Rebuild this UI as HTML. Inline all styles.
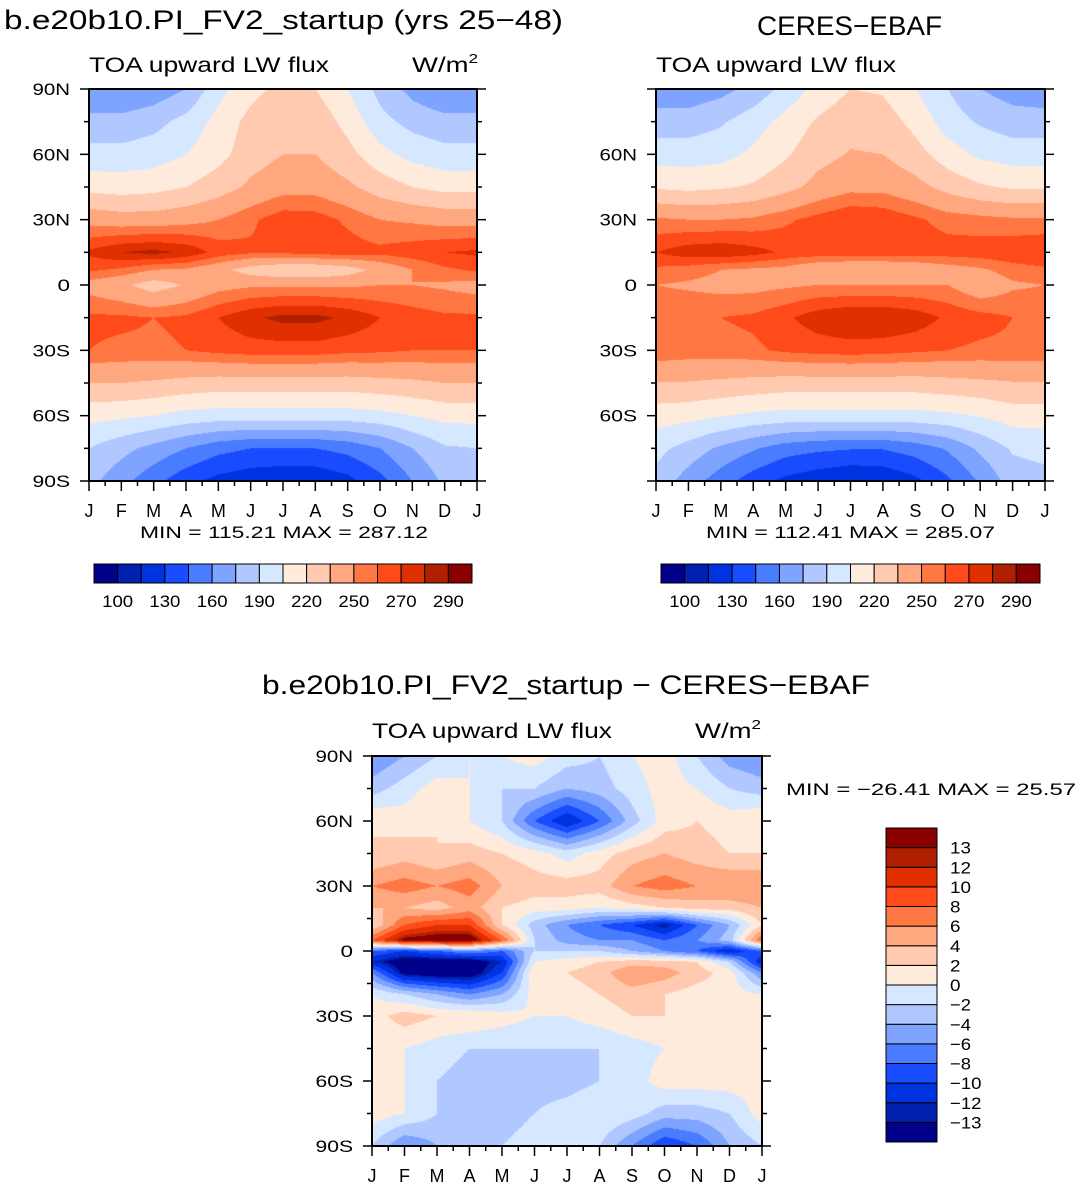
<!DOCTYPE html>
<html><head><meta charset="utf-8"><style>
body{margin:0;width:1082px;height:1189px;background:#fff;position:relative;overflow:hidden;font-family:"Liberation Sans",sans-serif}
canvas{position:absolute}
svg{position:absolute;left:0;top:0}
text{font-family:"Liberation Sans",sans-serif;fill:#000}
</style></head><body>
<canvas id="c1" style="left:89px;top:89px" width="388" height="392"></canvas>
<canvas id="c2" style="left:656px;top:89px" width="389" height="392"></canvas>
<canvas id="c3" style="left:372px;top:756px" width="390" height="390"></canvas>
<svg id="ov" width="1082" height="1189"></svg>
<script>
const colors=["#00008a","#0020b0","#0033e0","#1a4cff","#4a7cff","#7ea4ff","#b0c8ff","#d6e8ff","#ffebdc","#ffcab0","#ffa880","#ff7844","#ff4a1a","#e03000","#b02000","#8a0000"];
const absLevels=[100,115,130,145,160,175,190,205,220,235,250,260,270,280,290];
const absLabels=["100","130","160","190","220","250","270","290"];
const diffLevels=[-13,-12,-10,-8,-6,-4,-2,0,2,4,6,8,10,12,13];
const months=["J","F","M","A","M","J","J","A","S","O","N","D","J"];
const latLabels=["90N","60N","30N","0","30S","60S","90S"];
const latTicks=[90,60,30,0,-30,-60,-90];
const modelLats=[90,75,60,45,30,15,7,0,-15,-30,-45,-60,-75,-90];
const modelVals=[
[160,160,165,175,200,215,225,220,205,185,170,160,160],
[180,180,185,195,210,225,232,230,215,195,185,180,180],
[195,195,198,205,215,228,235,235,225,210,200,195,195],
[215,213,215,220,228,238,245,245,238,228,220,215,215],
[245,242,242,245,250,258,266,265,258,250,248,245,245],
[272,280,283,278,266,262,262,265,265,263,266,270,272],
[262,258,250,248,240,228,222,222,228,240,250,258,262],
[245,238,228,236,245,248,248,248,248,250,250,248,245],
[262,262,260,262,270,278,283,283,278,270,265,262,262],
[260,258,258,260,263,265,265,265,263,262,260,260,260],
[235,235,233,230,228,228,228,228,228,230,232,235,235],
[210,208,205,200,198,198,198,198,198,200,205,210,210],
[190,180,170,160,150,145,145,145,150,160,175,188,190],
[180,165,150,135,125,120,117,118,125,140,160,178,180]];
const ceresLats=[90,75,60,45,30,15,7,0,-15,-30,-45,-60,-75,-90];
const ceresVals=[
[165,165,170,180,195,210,220,218,205,190,175,168,165],
[182,182,188,198,210,222,230,228,215,198,188,182,182],
[198,198,200,208,218,230,236,235,226,212,202,198,198],
[218,216,218,222,230,240,246,246,240,230,222,218,218],
[252,250,250,252,258,264,270,268,262,256,254,252,252],
[270,276,278,274,268,266,266,266,266,265,266,268,270],
[258,255,250,248,246,238,235,235,238,244,248,255,258],
[250,248,246,246,248,250,250,250,250,250,240,248,250],
[260,260,260,262,268,276,280,280,276,268,264,260,260],
[258,256,256,258,262,264,265,264,262,260,258,258,258],
[234,234,232,230,228,228,228,228,228,230,232,234,234],
[212,210,206,202,200,200,200,200,200,202,206,212,212],
[195,184,172,162,152,148,146,146,152,162,178,192,195],
[185,168,152,137,126,120,115,117,126,142,162,182,185]];
const diffLats=[90,75,60,45,30,20,12,5,0,-5,-10,-20,-30,-45,-60,-75,-90];
const diffVals=[
[-6,-4,-2,0,0,1,-1,-2,0,1,-2,-5,-6],
[-3,-1,1,0,-2,-2,-4,-3,-1,1,0,-2,-3],
[2,1,2,0,-2,-8,-12,-8,-3,1,2,1,2],
[2,3,2,3,2,1,-1,1,3,4,3,2,2],
[6,7,6,7,4,3,3,3,6,7,6,6,6],
[4,4,3,5,2,1,1,0,1,2,3,3,4],
[2,8,10,10,2,-3,-6,-8,-10,-13,-8,-4,2],
[8,14,15,15,8,-2,-5,-6,-6,-8,-6,-3,8],
[-8,-10,-8,-6,-8,-2,-2,-2,-4,-6,-8,-12,-8],
[-12,-15,-15,-15,-12,0,1,2,3,3,2,-2,-12],
[-6,-14,-15,-15,-10,2,2,3,6,5,3,1,-6],
[0,-2,-4,-6,-4,1,1,2,3,2,1,1,0],
[1,3,2,2,1,0,0,1,2,2,1,1,1],
[1,0,-1,-2,-2,-2,-2,-2,-1,0,1,1,1],
[1,0,-2,-3,-4,-3,-3,-2,-1,1,1,1,1],
[1,0,-2,-3,-3,-2,-1,0,-1,-3,-3,-2,1],
[-2,-6,-4,-2,-2,-1,0,-2,-6,-10,-8,-4,-2]];

function hex(c){return [parseInt(c.slice(1,3),16),parseInt(c.slice(3,5),16),parseInt(c.slice(5,7),16)];}
const rgb=colors.map(hex);
function level(v,lv){let k=0;while(k<lv.length&&v>=lv[k])k++;return k;}
function sample(lats,vals,lat,m){
  let r=0;while(r<lats.length-2&&lat<lats[r+1])r++;
  const t=(lats[r]-lat)/(lats[r]-lats[r+1]);
  const c=Math.min(Math.floor(m),11),s=m-c;
  const a=vals[r][c]*(1-s)+vals[r][c+1]*s, b=vals[r+1][c]*(1-s)+vals[r+1][c+1]*s;
  return a*(1-t)+b*t;}
function draw(id,lats,vals,lv){
  const cv=document.getElementById(id),w=cv.width,h=cv.height,ctx=cv.getContext('2d');
  const img=ctx.createImageData(w,h);
  for(let y=0;y<h;y++)for(let x=0;x<w;x++){
    const lat=90-180*(y+0.5)/h, m=12*(x+0.5)/w;
    const c=rgb[level(sample(lats,vals,lat,m),lv)];const i=(y*w+x)*4;
    img.data[i]=c[0];img.data[i+1]=c[1];img.data[i+2]=c[2];img.data[i+3]=255;}
  ctx.putImageData(img,0,0);}
draw('c1',modelLats,modelVals,absLevels);
draw('c2',ceresLats,ceresVals,absLevels);
draw('c3',diffLats,diffVals,diffLevels);

const ov=document.getElementById('ov');const NS="http://www.w3.org/2000/svg";
function el(tag,attrs,txt){const e=document.createElementNS(NS,tag);for(const k in attrs)e.setAttribute(k,attrs[k]);if(txt!==undefined)e.textContent=txt;ov.appendChild(e);return e;}
function wid(s){return s.length*12.5;}
function axes(x0,y0,w,h,showLat,name){
  const f=el('rect',{x:x0,y:y0,width:w,height:h,fill:'none',stroke:'#000','stroke-width':2});
  
  for(let lat=90;lat>=-90;lat-=15){const y=y0+(90-lat)/180*h,major=lat%30===0,L=major?9:5;
    el('line',{x1:x0-L,y1:y,x2:x0,y2:y,stroke:'#000','stroke-width':1.5});
    el('line',{x1:x0+w,y1:y,x2:x0+w+L,y2:y,stroke:'#000','stroke-width':1.5});}
  latTicks.forEach((lat,i)=>{if(!showLat&&Math.abs(lat)===90)return;const y=y0+(90-lat)/180*h;const s=latLabels[i];
    const t=el('text',{x:x0-19,y:y+6,'font-size':17,'text-anchor':'end',textLength:wid(s),lengthAdjust:'spacingAndGlyphs'},s);
    });
  months.forEach((m,i)=>{const x=x0+i/12*w;
    el('line',{x1:x,y1:y0+h,x2:x,y2:y0+h+10,stroke:'#000','stroke-width':1.5});
    if(i<12)el('line',{x1:x+w/24,y1:y0+h,x2:x+w/24,y2:y0+h+5,stroke:'#000','stroke-width':1.5});
    const t=el('text',{x:x,y:y0+h+36,'font-size':18,'text-anchor':'middle'},m);
    });}
axes(89,89,388,392,true,'model');
axes(656,89,389,392,false,'ceres');
axes(372,756,390,390,true,'diff');
function hbar(x0,y0,w,h,name){const bw=w/16;
  colors.forEach((c,i)=>{const r=el('rect',{x:x0+i*bw,y:y0,width:bw,height:h,fill:c,stroke:'#000','stroke-width':1});
    });
  absLabels.forEach((l,j)=>{const t=el('text',{x:x0+(2*j+1)*bw,y:y0+h+24,'font-size':17,'text-anchor':'middle',textLength:31,lengthAdjust:'spacingAndGlyphs'},l);
    });}
hbar(94,564,378,19,'model-colorbar');
hbar(661,564,379,19,'ceres-colorbar');
const vb=314/16;
colors.forEach((c,i)=>{const r=el('rect',{x:886,y:828+(15-i)*vb,width:51,height:vb,fill:c,stroke:'#000','stroke-width':1});
  });
diffLevels.forEach((l,i)=>{const s=String(l).replace('-','\u2212');const t=el('text',{x:950,y:828+(15-i)*vb+6,'font-size':17,textLength:s.length*10.5,lengthAdjust:'spacingAndGlyphs'},s);
  });
</script>
<svg width="1082" height="1189" style="pointer-events:none">
<text x="4" y="29" font-size="27" textLength="559" lengthAdjust="spacingAndGlyphs">b.e20b10.PI_FV2_startup (yrs 25−48)</text>
<text x="757" y="35" font-size="27" textLength="185" lengthAdjust="spacingAndGlyphs">CERES−EBAF</text>
<text x="89" y="72" font-size="21" textLength="240" lengthAdjust="spacingAndGlyphs">TOA upward LW flux</text>
<text x="412" y="72" font-size="21" textLength="66" lengthAdjust="spacingAndGlyphs">W/m<tspan font-size="13" dy="-9">2</tspan></text>
<text x="656" y="72" font-size="21" textLength="240" lengthAdjust="spacingAndGlyphs">TOA upward LW flux</text>
<text x="140" y="538" font-size="17" textLength="288" lengthAdjust="spacingAndGlyphs">MIN = 115.21  MAX = 287.12</text>
<text x="706" y="538" font-size="17" textLength="289" lengthAdjust="spacingAndGlyphs">MIN = 112.41  MAX = 285.07</text>
<text x="262" y="694" font-size="27" textLength="608" lengthAdjust="spacingAndGlyphs">b.e20b10.PI_FV2_startup − CERES−EBAF</text>
<text x="372" y="738" font-size="21" textLength="240" lengthAdjust="spacingAndGlyphs">TOA upward LW flux</text>
<text x="695" y="738" font-size="21" textLength="66" lengthAdjust="spacingAndGlyphs">W/m<tspan font-size="13" dy="-9">2</tspan></text>
<text x="786" y="795" font-size="17" textLength="290" lengthAdjust="spacingAndGlyphs">MIN = −26.41  MAX =   25.57</text>
</svg>
</body></html>
